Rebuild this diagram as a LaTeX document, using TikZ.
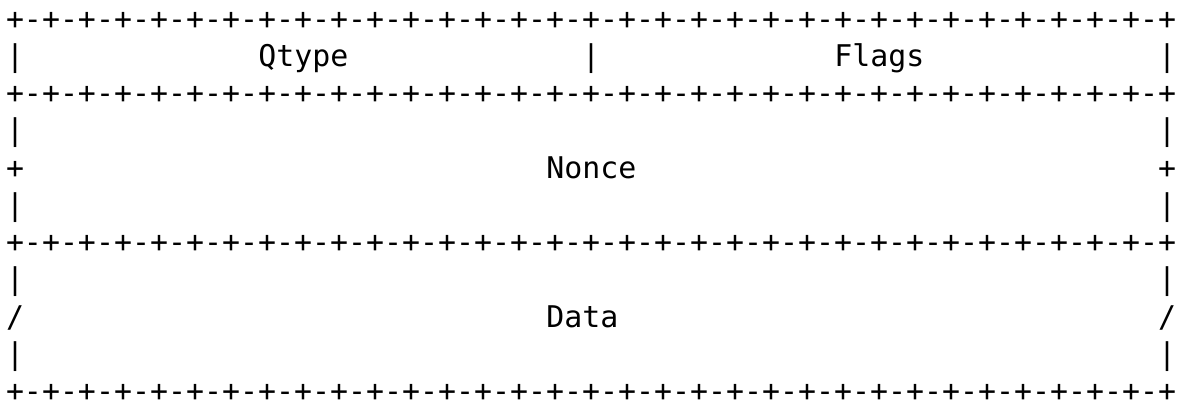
\documentclass[tikz,border=0pt]{standalone}
\usepackage{fontspec}
\setmonofont{DejaVu Sans Mono}
\begin{document}
\begin{tikzpicture}[x=0.5pt, y=-0.5pt]
  \def\cw{18}    % column pitch
  \def\lh{37.25} % row pitch
  \def\yb{29}    % first baseline
  \tikzset{
    ch/.style={font=\ttfamily\fontsize{14.95pt}{18pt}\selectfont, inner sep=0pt, anchor=base},
    lbl/.style={ch, anchor=base west}
  }
  \useasboundingbox (0,0) rectangle (1182,409);

  % border rows
  \foreach \r in {0,2,6,10}{
    \foreach \c in {0,2,...,64}
      \node[ch] (p\r-\c) at ({15+\cw*\c}, {\yb+\lh*\r}) {+};
    \foreach \c in {1,3,...,63}
      \node[ch] (m\r-\c) at ({15+\cw*\c}, {\yb+\lh*\r}) {-};
  }

  % side walls
  \foreach \r in {1,3,5,7,9}{
    \node[ch] (wl\r) at (15, {\yb+\lh*\r}) {|};
    \node[ch] (wr\r) at ({15+\cw*64}, {\yb+\lh*\r}) {|};
  }
  \node[ch] (mid) at ({15+\cw*32}, {\yb+\lh}) {|};
  \node[ch] (nl) at (15, {\yb+\lh*4}) {+};
  \node[ch] (nr) at ({15+\cw*64}, {\yb+\lh*4}) {+};
  \node[ch] (dl) at (15, {\yb+\lh*8}) {/};
  \node[ch] (dr) at ({15+\cw*64}, {\yb+\lh*8}) {/};

  % field names
  \node[lbl] (qtype) at ({6+\cw*14}, {\yb+\lh}) {Qtype};
  \node[lbl] (flags) at ({6+\cw*46}, {\yb+\lh}) {Flags};
  \node[lbl] (nonce) at ({6+\cw*30}, {\yb+\lh*4}) {Nonce};
  \node[lbl] (data)  at ({6+\cw*30}, {\yb+\lh*8}) {Data};
\end{tikzpicture}
\end{document}
